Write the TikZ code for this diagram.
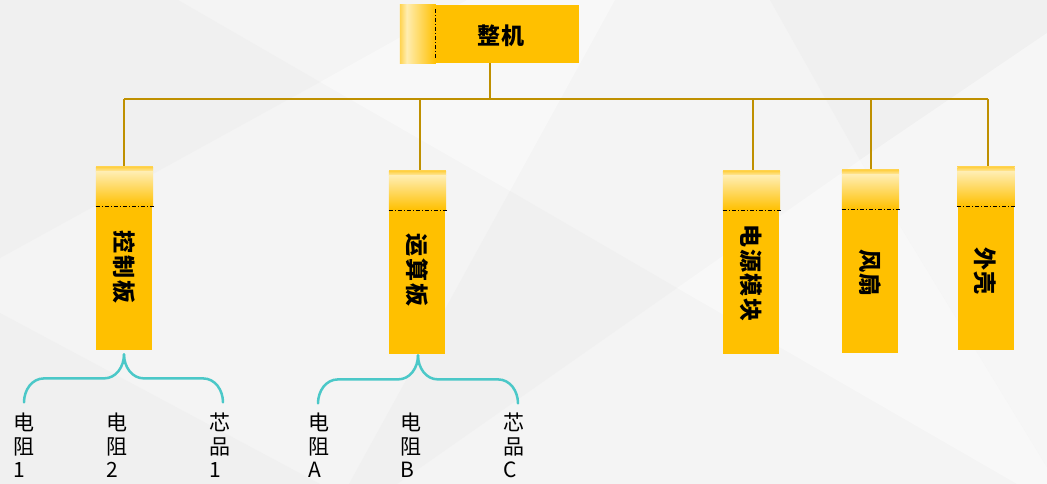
\documentclass[tikz,border=0pt]{standalone}
\usepackage{fontspec}
\newfontfamily\cjk{Noto Sans CJK SC}
\usetikzlibrary{calc}
\definecolor{bgmid}{HTML}{F4F4F4}
\definecolor{bglight}{HTML}{F8F8F8}
\definecolor{bgsoft}{HTML}{F6F6F6}
\definecolor{bgdark}{HTML}{F0F0F0}
\definecolor{boxyellow}{HTML}{FFC000}
\definecolor{capedge}{HTML}{FFD34F}
\definecolor{cappale}{HTML}{FFEDB0}
\definecolor{busgold}{HTML}{BF9000}
\definecolor{braceteal}{HTML}{4BC8C8}
\tikzset{
  topbox/.style={rectangle, fill=boxyellow, minimum width=179pt, minimum height=58pt, inner sep=0pt},
  vbox/.style={rectangle, fill=boxyellow, minimum width=56pt, minimum height=184pt, inner sep=0pt, anchor=north},
  toptext/.style={font=\cjk\bfseries\fontsize{23}{26}\selectfont\addfontfeature{LetterSpace=6}, text=black, inner sep=0pt},
  vtext/.style={font=\cjk\bfseries\fontsize{23}{26}\selectfont\addfontfeature{LetterSpace=8}, text=black, inner sep=0pt, rotate=-90},
  leaf/.style={font=\cjk\fontsize{21}{23.5}\selectfont, text=black, inner sep=0pt, anchor=north west, align=left},
  dashdot/.style={black, line width=0.8pt, dash pattern=on 4pt off 2pt on 1pt off 2pt},
  bus/.style={busgold, line width=2pt},
  brace/.style={braceteal, line width=2.5pt, line cap=round},
}
\begin{document}
\begin{tikzpicture}[x=1pt,y=-1pt]
\useasboundingbox (0,0) rectangle (1047,484);
% low-poly background
\fill[bgmid] (0,0) rectangle (1047,484);
\fill[bgdark] (0,0) -- (178,0) -- (320,82) -- (0,258) -- cycle;
\fill[bgdark] (0,313) -- (320,484) -- (0,484) -- cycle;
\fill[bglight] (320,82) -- (467,0) -- (615,0) -- (510,191) -- cycle;
\fill[bgdark] (510,191) -- (677,288) -- (397,484) -- (349,484) -- cycle;
\fill[bgdark] (770,0) -- (1047,0) -- (1047,33) -- (860,160) -- cycle;
\fill[bglight] (677,288) -- (860,160) -- (1047,467) -- (1047,484) -- (1017,484) -- cycle;
\fill[bgsoft] (860,160) -- (1047,33) -- (1047,467) -- cycle;

% top box
\node[topbox] (root) at (489.5,34) {};
\shade[left color=capedge, right color=cappale] (root.north west) rectangle ($(root.south west)+(7,0)$);
\shade[left color=cappale, right color=boxyellow] ($(root.north west)+(7,0)$) rectangle ($(root.south west)+(36,0)$);
\draw[dashdot] ($(root.north west)+(36,4)$) -- ($(root.south west)+(36,-5)$);
\node[toptext] (roottxt) at (501,36) {整机};

% vertical boxes
\foreach \n/\cx/\yt/\txt/\ty in {b1/124/166/控制板/267, b2/417/170/运算板/270, b3/751/170/电源模块/273, b4/870/169/风扇/273, b5/985.5/166/外壳/271}{
  \node[vbox] (\n) at (\cx,\yt) {};
  \fill[capedge] (\n.north west) rectangle ($(\n.north east)+(1,1.5)$);
  \shade[top color=capedge, bottom color=cappale] ($(\n.north west)+(0,1.5)$) rectangle ($(\n.north east)+(1,6)$);
  \shade[top color=cappale, bottom color=boxyellow] ($(\n.north west)+(0,6)$) rectangle ($(\n.north east)+(1,40)$);
  \draw[dashdot] ($(\n.north west)+(0,40)$) -- ($(\n.north east)+(2,40)$);
  \node[vtext] (\n t) at (\cx,\ty) {\txt};
}

% bus connectors
\coordinate (k1) at (124,99);
\coordinate (k2) at (420,99);
\coordinate (k3) at (753,99);
\coordinate (k4) at (871,99);
\coordinate (k5) at (988,99);
\draw[bus] (root.south) -- (root.south |- k1);
\draw[bus] (k1) -- (k5);
\draw[bus] (k1) -- (k1 |- b1.north);
\draw[bus] (k2) -- (k2 |- b2.north);
\draw[bus] (k3) -- (k3 |- b3.north);
\draw[bus] (k4) -- (k4 |- b4.north);
\draw[bus] (k5) -- (k5 |- b5.north);

% braces
\coordinate (tip1) at ($(b1.south)+(0,4)$);
\coordinate (tip2) at ($(b2.south)+(1,1)$);
\draw[brace] (tip1) to[out=-90,in=0] ++(-20,24) -- ++(-60,0) to[out=180,in=90] ++(-20,24);
\draw[brace] (tip1) to[out=-90,in=180] ++(20,24) -- ++(59,0) to[out=0,in=90] ++(20,24);
\draw[brace] (tip2) to[out=-90,in=0] ++(-20,24) -- ++(-60,0) to[out=180,in=90] ++(-20,24);
\draw[brace] (tip2) to[out=-90,in=180] ++(20,24) -- ++(60,0) to[out=0,in=90] ++(20,24);

% leaves
\node[leaf] (l1) at (13,413) {电\\阻\\1};
\node[leaf] (l2) at (106,413) {电\\阻\\2};
\node[leaf] (l3) at (209,413) {芯\\品\\1};
\node[leaf] (l4) at (308,413) {电\\阻\\A};
\node[leaf] (l5) at (400,413) {电\\阻\\B};
\node[leaf] (l6) at (503,413) {芯\\品\\C};
\end{tikzpicture}
\end{document}
